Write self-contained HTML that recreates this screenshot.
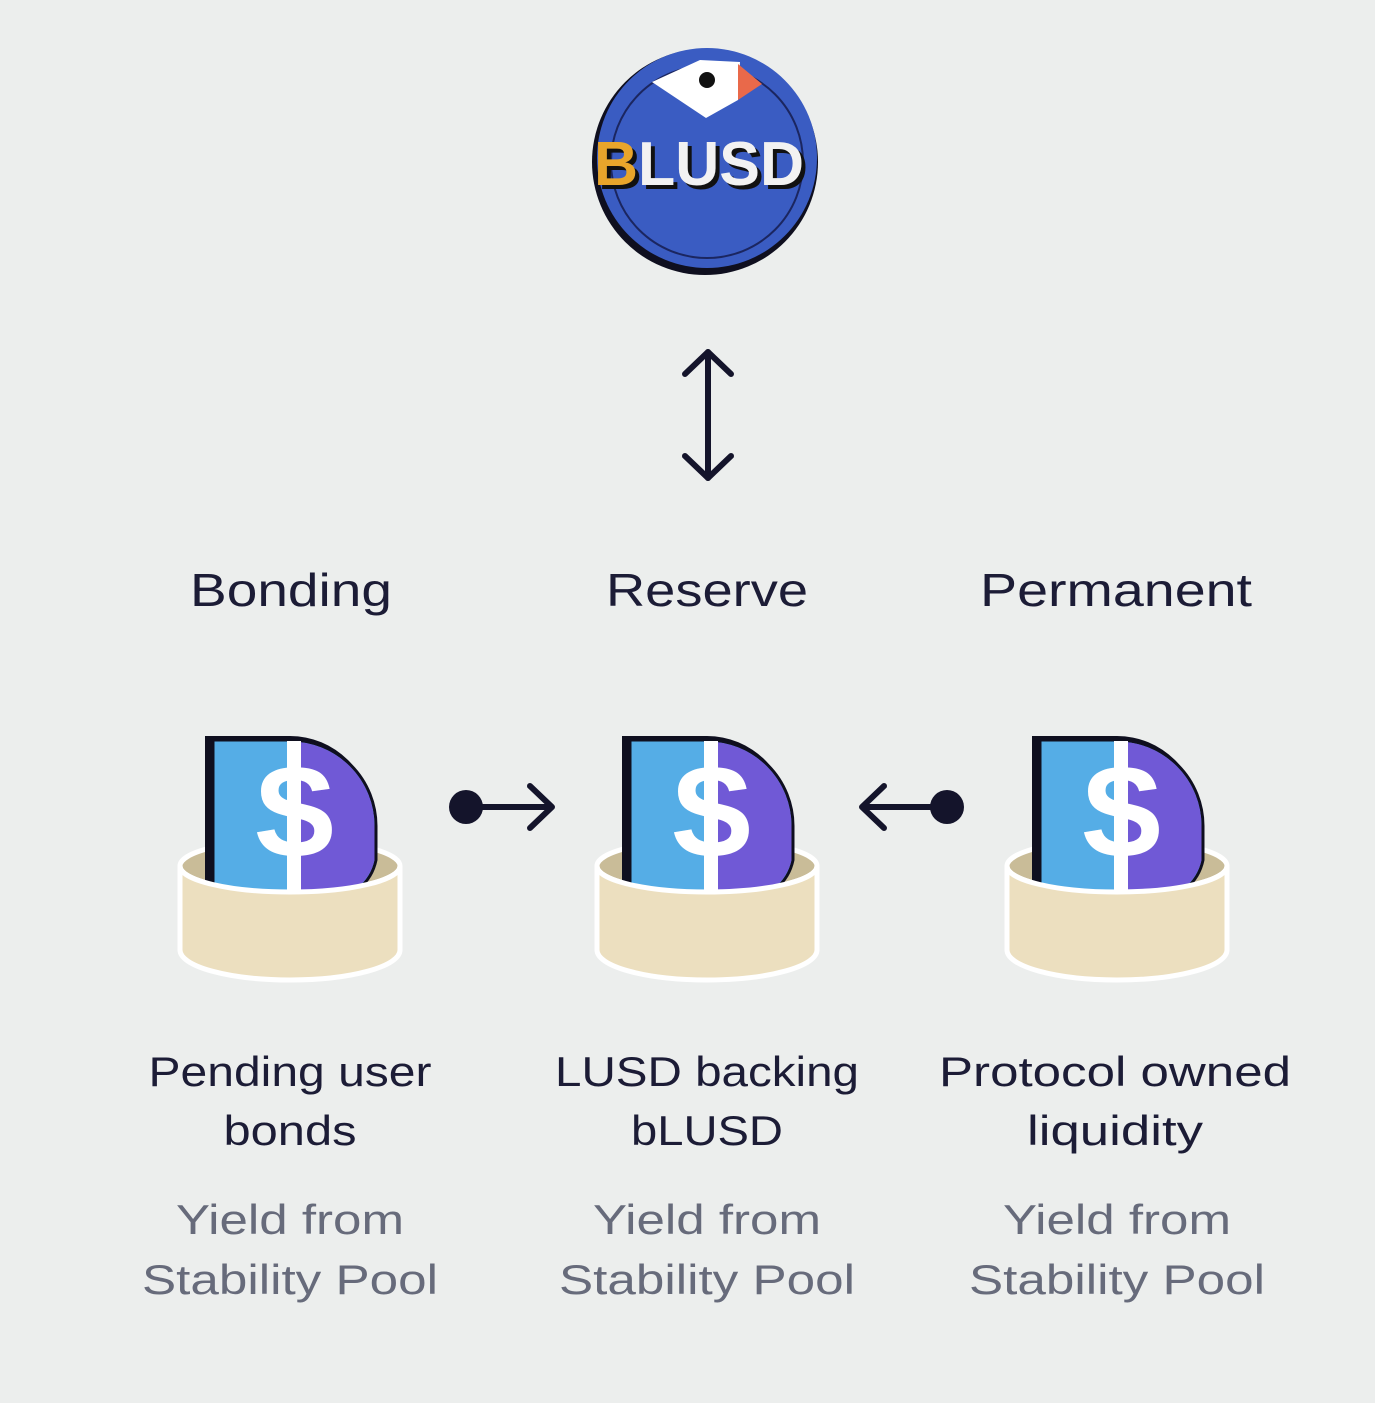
<!DOCTYPE html>
<html><head><meta charset="utf-8"><style>
html,body{margin:0;padding:0;background:#eceeed;}
svg{display:block;}
text{font-family:"Liberation Sans",sans-serif;}
</style></head><body>
<svg width="1375" height="1403" viewBox="0 0 1375 1403" xmlns="http://www.w3.org/2000/svg">
<rect width="1375" height="1403" fill="#eceeed"/>
<defs>
<g id="icon">
  <!-- back rim inside -->
  <ellipse cx="0" cy="866" rx="110" ry="26" fill="#c9bc98" stroke="#fff" stroke-width="5"/>
  <!-- coin shadow -->
  <path d="M-85,736 H0 A82 82 0 0 1 82,818 V870 A40 40 0 0 1 42,900 H-85 Z" fill="#0f0f1f"/>
  <!-- coin blue -->
  <path d="M-77,740 H0 A86 86 0 0 1 86,826 V860 A50 50 0 0 1 36,900 H-77 Z" fill="#55ade6" stroke="#0f0f1f" stroke-width="3"/>
  <!-- purple right half -->
  <path d="M7,741.5 H0 A84.5 84.5 0 0 1 84.5,826 V860 A48 48 0 0 1 36,898 H7 Z" fill="#7059d6"/>
  <rect x="-3" y="741" width="14" height="160" fill="#fff"/>
  <text x="5" y="855" text-anchor="middle" font-size="125" font-weight="bold" fill="#fff">S</text>
  <!-- front body -->
  <path d="M-110,866 A110 26 0 0 0 110,866 V950 A110 30 0 0 1 -110,950 Z" fill="#ecdfbf" stroke="#fff" stroke-width="5"/>
</g>
</defs>

<!-- logo -->
<circle cx="705" cy="162" r="113" fill="#0f0f1f"/>
<circle cx="707" cy="158" r="110" fill="#3a5cc2"/>
<circle cx="707" cy="162" r="96" fill="none" stroke="#1b2660" stroke-width="2"/>
<path d="M652,82 L700,60 L740,62 L738,100 L706,118 Z" fill="#fff"/>
<path d="M738,64 L762,84 L738,100 Z" fill="#e9694a"/>
<circle cx="707" cy="80" r="8" fill="#111"/>
<text x="598" y="189" font-size="62" font-weight="bold" fill="#111" textLength="210" lengthAdjust="spacingAndGlyphs">BLUSD</text>
<text x="594" y="185" font-size="62" font-weight="bold" fill="#f2f2f2" textLength="210" lengthAdjust="spacingAndGlyphs"><tspan fill="#e8a52b">B</tspan>LUSD</text>

<!-- vertical arrow -->
<g stroke="#14142b" stroke-width="6" fill="none" stroke-linecap="round" stroke-linejoin="round">
<line x1="708" y1="352" x2="708" y2="478"/>
<polyline points="685,374 708,352 731,374"/>
<polyline points="685,456 708,478 731,456"/>
<line x1="466" y1="807" x2="550" y2="807"/>
<polyline points="530,786 552,807 530,828"/>
<line x1="864" y1="807" x2="947" y2="807"/>
<polyline points="884,786 862,807 884,828"/>
</g>
<circle cx="466" cy="807" r="17" fill="#14142b"/>
<circle cx="947" cy="807" r="17" fill="#14142b"/>

<!-- headings -->
<g font-size="46" fill="#1c1c36" text-anchor="middle">
<text x="291" y="606" textLength="202" lengthAdjust="spacingAndGlyphs">Bonding</text>
<text x="707" y="606" textLength="202" lengthAdjust="spacingAndGlyphs">Reserve</text>
<text x="1116" y="606" textLength="272" lengthAdjust="spacingAndGlyphs">Permanent</text>
</g>

<use href="#icon" x="290"/>
<use href="#icon" x="707"/>
<use href="#icon" x="1117"/>

<g font-size="42" fill="#1c1c36" text-anchor="middle">
<text x="290" y="1086" textLength="283" lengthAdjust="spacingAndGlyphs">Pending user</text>
<text x="290" y="1145" textLength="133" lengthAdjust="spacingAndGlyphs">bonds</text>
<text x="707" y="1086" textLength="304" lengthAdjust="spacingAndGlyphs">LUSD backing</text>
<text x="707" y="1145" textLength="152" lengthAdjust="spacingAndGlyphs">bLUSD</text>
<text x="1115" y="1086" textLength="352" lengthAdjust="spacingAndGlyphs">Protocol owned</text>
<text x="1115" y="1145" textLength="176" lengthAdjust="spacingAndGlyphs">liquidity</text>
</g>
<g font-size="42" fill="#676b7b" text-anchor="middle">
<text x="290" y="1234" textLength="228" lengthAdjust="spacingAndGlyphs">Yield from</text>
<text x="290" y="1294" textLength="296" lengthAdjust="spacingAndGlyphs">Stability Pool</text>
<text x="707" y="1234" textLength="228" lengthAdjust="spacingAndGlyphs">Yield from</text>
<text x="707" y="1294" textLength="296" lengthAdjust="spacingAndGlyphs">Stability Pool</text>
<text x="1117" y="1234" textLength="228" lengthAdjust="spacingAndGlyphs">Yield from</text>
<text x="1117" y="1294" textLength="296" lengthAdjust="spacingAndGlyphs">Stability Pool</text>
</g>
</svg>
</body></html>
